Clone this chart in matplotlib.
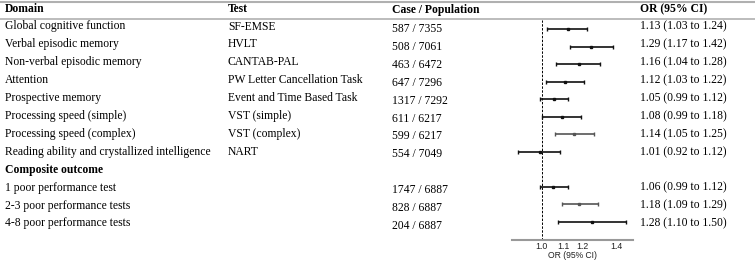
import matplotlib
matplotlib.use('Agg')
import matplotlib.pyplot as plt
import numpy as np

# table content
domains = ['Global cognitive function', 'Verbal episodic memory', 'Non-verbal episodic memory',
           'Attention', 'Prospective memory', 'Processing speed (simple)',
           'Processing speed (complex)', 'Reading ability and crystallized intelligence',
           'Composite outcome', '1 poor performance test', '2-3 poor performance tests',
           '4-8 poor performance tests']
tests = ['SF-EMSE', 'HVLT', 'CANTAB-PAL', 'PW Letter Cancellation Task',
         'Event and Time Based Task', 'VST (simple)', 'VST (complex)', 'NART',
         '', '', '', '']
cases = ['587 / 7355', '508 / 7061', '463 / 6472', '647 / 7296', '1317 / 7292',
         '611 / 6217', '599 / 6217', '554 / 7049', '', '1747 / 6887', '828 / 6887',
         '204 / 6887']
or_text = ['1.13 (1.03 to 1.24)', '1.29 (1.17 to 1.42)', '1.16 (1.04 to 1.28)',
           '1.12 (1.03 to 1.22)', '1.05 (0.99 to 1.12)', '1.08 (0.99 to 1.18)',
           '1.14 (1.05 to 1.25)', '1.01 (0.92 to 1.12)', '', '1.06 (0.99 to 1.12)',
           '1.18 (1.09 to 1.29)', '1.28 (1.10 to 1.50)']

# forest marks (row index, estimate, lower, upper)
rows = [0, 1, 2, 3, 4, 5, 6, 7, 9, 10, 11]
est = [1.124, 1.249, 1.180, 1.112, 1.055, 1.094, 1.157, 0.991, 1.052, 1.184, 1.255]
lo = [1.023, 1.134, 1.065, 1.019, 0.991, 1.001, 1.060, 0.898, 0.994, 1.094, 1.074]
hi = [1.227, 1.379, 1.301, 1.210, 1.127, 1.194, 1.263, 1.087, 1.125, 1.287, 1.459]
gray_rows = [6, 10]

W, H = 755, 261
fig = plt.figure(figsize=(W/100, H/100), dpi=100)
ax = fig.add_axes([0, 0, 1, 1])
ax.set_xlim(0, W)
ax.set_ylim(H, 0)
ax.axis('off')

serif = ['Liberation Serif', 'DejaVu Serif']
fs = 8.4
hy = 9.5
ax.text(5, hy, 'Domain', fontsize=fs, fontweight='bold', family=serif, va='center')
ax.text(228, hy, 'Test', fontsize=fs, fontweight='bold', family=serif, va='center')
ax.text(392, hy, 'Case / Population', fontsize=fs, fontweight='bold', family=serif, va='center')
ax.text(640, hy, 'OR (95% CI)', fontsize=fs, fontweight='bold', family=serif, va='center')
ax.plot([0, W], [1.5, 1.5], color='#b0b0b0', lw=1.5)
ax.plot([0, W], [18.5, 18.5], color='#b0b0b0', lw=1.2)

for i in range(len(domains)):
    y = 26.5 + 17.9 * i
    bold = 'bold' if domains[i] == 'Composite outcome' else 'normal'
    ax.text(5, y, domains[i], fontsize=fs, fontweight=bold, family=serif, va='center')
    ax.text(228, y, tests[i], fontsize=fs, family=serif, va='center')
    ax.text(392, y + 2.5, cases[i], fontsize=fs, family=serif, va='center')
    ax.text(640, y, or_text[i], fontsize=fs, family=serif, va='center')

# forest plot
top, bot, left, right = 20, 239.5, 512, 633
fax = fig.add_axes([left/W, (H-bot)/H, (right-left)/W, (bot-top)/H])
fax.set_xscale('log')
fax.set_xlim(0.875, 1.506)
fax.set_ylim((bot-29.3)/17.5, (top-29.3)/17.5)
fax.patch.set_alpha(0)
for s in ['top', 'left', 'right']:
    fax.spines[s].set_visible(False)
fax.spines['bottom'].set_color('#999999')
fax.spines['bottom'].set_linewidth(1.5)
fax.set_yticks([])
fax.set_xticks([1.0, 1.1, 1.2, 1.4])
fax.set_xticklabels(['1.0', '1.1', '1.2', '1.4'])
fax.xaxis.set_minor_locator(matplotlib.ticker.NullLocator())
fax.tick_params(axis='x', length=0, pad=1.5, labelsize=6.3, labelcolor='#222222')
for lab in fax.get_xticklabels():
    lab.set_family(['Liberation Sans', 'DejaVu Sans'])
fax.set_xlabel('OR (95% CI)', fontsize=6.2, family=['Liberation Sans', 'DejaVu Sans'],
               labelpad=0.5, color='#222222')
fax.axvline(1.0, color='black', lw=0.7, ls=(0, (2.5, 1.5)))

for k, r in enumerate(rows):
    c = '#555555' if r in gray_rows else '#111111'
    fax.errorbar(est[k], r, xerr=[[est[k]-lo[k]], [hi[k]-est[k]]], fmt='s', ms=1.8,
                 color=c, ecolor=c, elinewidth=1.2, capsize=1.5, capthick=1.0)

fig.savefig('out.png', dpi=100)
